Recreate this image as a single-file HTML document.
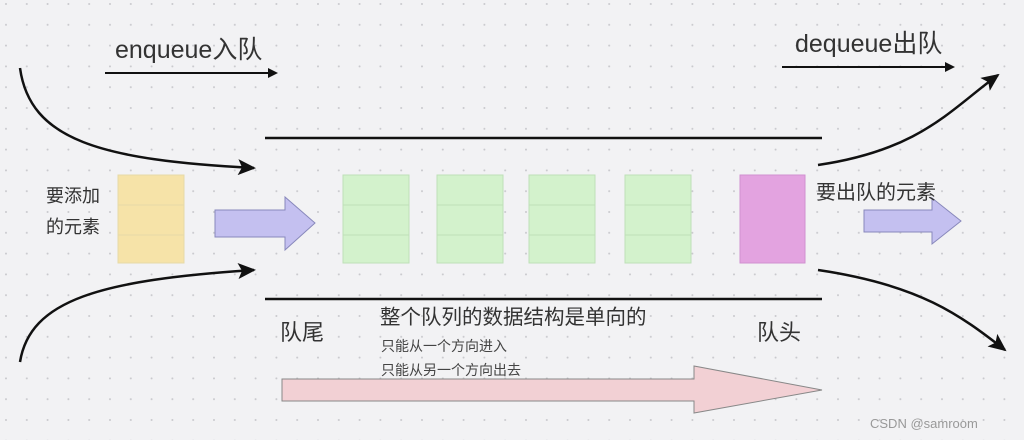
<!DOCTYPE html>
<html><head><meta charset="utf-8"><style>
html,body{margin:0;padding:0;background:#f2f2f4;}
svg{display:block;font-family:"Liberation Sans","Noto Sans CJK SC",sans-serif;}
</style></head><body>
<svg width="1024" height="440" viewBox="0 0 1024 440" xmlns="http://www.w3.org/2000/svg">
<defs>
<pattern id="dots" width="20.8" height="20.8" patternUnits="userSpaceOnUse" x="5" y="3">
<circle cx="1" cy="1" r="1" fill="#c8c8cc"/></pattern>
<marker id="ah" markerWidth="10" markerHeight="10" refX="8" refY="5" orient="auto" markerUnits="userSpaceOnUse">
<path d="M0,0 L10,5 L0,10 Z" fill="#111"/></marker>
<marker id="ah2" markerWidth="18" markerHeight="16" refX="16" refY="8" orient="auto" markerUnits="userSpaceOnUse">
<path d="M0,0 L18,8 L0,16 L4,8 Z" fill="#111"/></marker>
</defs>
<rect width="1024" height="440" fill="#f2f2f4"/>
<rect width="1024" height="440" fill="url(#dots)"/>

<text x="115" y="58" font-size="25" fill="#333">enqueue入队</text>
<line x1="105" y1="73" x2="276" y2="73" stroke="#111" stroke-width="2" marker-end="url(#ah)"/>
<text x="795" y="52" font-size="25" fill="#333">dequeue出队</text>
<line x1="782" y1="67" x2="953" y2="67" stroke="#111" stroke-width="2" marker-end="url(#ah)"/>

<path d="M20,68 C30,140 100,160 254,168" fill="none" stroke="#111" stroke-width="2.5" marker-end="url(#ah2)"/>
<path d="M20,362 C30,300 100,280 254,270" fill="none" stroke="#111" stroke-width="2.5" marker-end="url(#ah2)"/>
<path d="M818,165 C920,150 950,110 998,75" fill="none" stroke="#111" stroke-width="2.5" marker-end="url(#ah2)"/>
<path d="M818,270 C920,285 960,315 1005,350" fill="none" stroke="#111" stroke-width="2.5" marker-end="url(#ah2)"/>

<line x1="265" y1="138" x2="822" y2="138" stroke="#111" stroke-width="2.5"/>
<line x1="265" y1="299" x2="822" y2="299" stroke="#111" stroke-width="2.5"/>

<text x="46" y="202" font-size="18" fill="#333">要添加</text>
<text x="46" y="233" font-size="18" fill="#333">的元素</text>
<g stroke="#e6d9a8" stroke-width="1"><rect x="118" y="175" width="66" height="88" fill="#f6e3a8"/><line x1="118" y1="205" x2="184" y2="205"/><line x1="118" y1="235" x2="184" y2="235"/></g>

<path d="M215,210 L285,210 L285,197 L315,223 L285,250 L285,237 L215,237 Z" fill="#c4c0f0" stroke="#8888bb" stroke-width="1"/>

<g fill="#d3f2cc" stroke="#bfe0b8" stroke-width="1">
<rect x="343" y="175" width="66" height="88"/><line x1="343" y1="205" x2="409" y2="205"/><line x1="343" y1="235" x2="409" y2="235"/>
<rect x="437" y="175" width="66" height="88"/><line x1="437" y1="205" x2="503" y2="205"/><line x1="437" y1="235" x2="503" y2="235"/>
<rect x="529" y="175" width="66" height="88"/><line x1="529" y1="205" x2="595" y2="205"/><line x1="529" y1="235" x2="595" y2="235"/>
<rect x="625" y="175" width="66" height="88"/><line x1="625" y1="205" x2="691" y2="205"/><line x1="625" y1="235" x2="691" y2="235"/>
</g>
<rect x="740" y="175" width="65" height="88" fill="#e3a3e0" stroke="#d090d0"/>

<path d="M864,210 L932,210 L932,198 L961,221 L932,244 L932,232 L864,232 Z" fill="#c4c0f0" stroke="#8888bb" stroke-width="1"/>
<text x="816" y="199" font-size="20" fill="#333">要出队的元素</text>

<text x="280" y="340" font-size="22" fill="#333">队尾</text>
<text x="757" y="340" font-size="22" fill="#333">队头</text>
<text x="380" y="324" font-size="20.5" fill="#333">整个队列的数据结构是单向的</text>
<text x="381" y="351" font-size="14" fill="#444">只能从一个方向进入</text>
<text x="381" y="375" font-size="14" fill="#444">只能从另一个方向出去</text>

<path d="M282,379 L694,379 L694,366 L822,390 L694,413 L694,401 L282,401 Z" fill="#f2d0d4" stroke="#888" stroke-width="1"/>

<text x="870" y="428" font-size="13" fill="#999">CSDN @samroom</text>
</svg>
</body></html>
